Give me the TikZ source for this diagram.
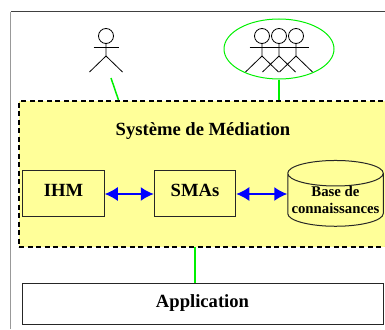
\documentclass[tikz,border=0pt]{standalone}
\usepackage{fontspec}
\setmainfont{Liberation Serif}
\usepackage{tikz}
\usetikzlibrary{arrows.meta,shapes.geometric}
\definecolor{medyellow}{RGB}{255,255,153}
\definecolor{lienvert}{RGB}{0,240,0}
\tikzset{
  boite/.style={draw=black!85,line width=1pt,inner sep=0pt,font=\fontsize{18.6}{20}\bfseries},
  lien/.style={draw=lienvert,line width=1.5pt},
  fleche/.style={draw=blue,line width=1.5pt,{Latex[length=13pt,width=14pt]}-{Latex[length=13pt,width=14pt]}},
  acteur/.pic={
    \draw[line width=.8pt] (0,0) circle (7.5);
    \draw[line width=.8pt] (-12.5,11) -- (12.5,11);
    \draw[line width=.8pt] (0,7.5) -- (0,20) -- (-16.5,36);
    \draw[line width=.8pt] (0,20) -- (16.5,36);
  }
}
\begin{document}
\begin{tikzpicture}[x=1pt,y=-1pt]
  \useasboundingbox (0,0) rectangle (385,329);
  \draw [black!40,line width=1pt] (10.5,329) -- (10.5,12);
  \draw [black!75,line width=1pt] (10.5,12) -- (385,12);
  \node (MED) at (209.5,174) [draw=black,dash pattern=on 5pt off 3.5pt,line width=1.5pt,fill=medyellow,
    minimum width=381pt,minimum height=146pt,inner sep=0pt] {};
  \node (TIT) at (203,131.5) [font=\fontsize{18.6}{20}\bfseries] {Système de Médiation};
  \node (IHM) at (63.5,193) [boite,minimum width=81.5pt,minimum height=46pt] {\raisebox{5.5pt}{IHM}};
  \node (SMA) at (195,193) [boite,minimum width=81.5pt,minimum height=46pt] {\raisebox{5.5pt}{SMAs}};
  \node (BASE) at (335.5,200) [boite,fill=medyellow,cylinder,shape border rotate=90,aspect=0.29,
    minimum width=95.5pt,minimum height=65pt,align=center,font=\fontsize{14.8}{16.6}\bfseries]
    {Base de\\connaissances};
  \node (APP) at (202.5,303.5) [boite,minimum width=361pt,minimum height=41pt] {\raisebox{-1pt}{Application}};
  % acteurs
  \pic at (106,36) {acteur};
  \foreach \x in {262,279,296}
    \pic at (\x,36) {acteur};
  \node (GRP) at (279,49) [draw=lienvert,line width=1pt,ellipse,minimum width=110pt,minimum height=60pt,inner sep=0pt] {};
  \coordinate (ACT) at (111,78);
  \coordinate (MT) at (118.5,100);
  \draw [lien] (ACT) -- (MT);
  \draw [lien] (GRP.south) -- (GRP.south |- MED.north);
  \coordinate (MB) at (195,247);
  \draw [lien] (MB) -- (MB |- APP.north);
  \draw [fleche] ([yshift=-1pt]IHM.east) -- ([yshift=-1pt]SMA.west);
  \draw [fleche] ([yshift=-1pt]SMA.east) -- ([yshift=-1pt]SMA.east -| BASE.west);
\end{tikzpicture}
\end{document}
